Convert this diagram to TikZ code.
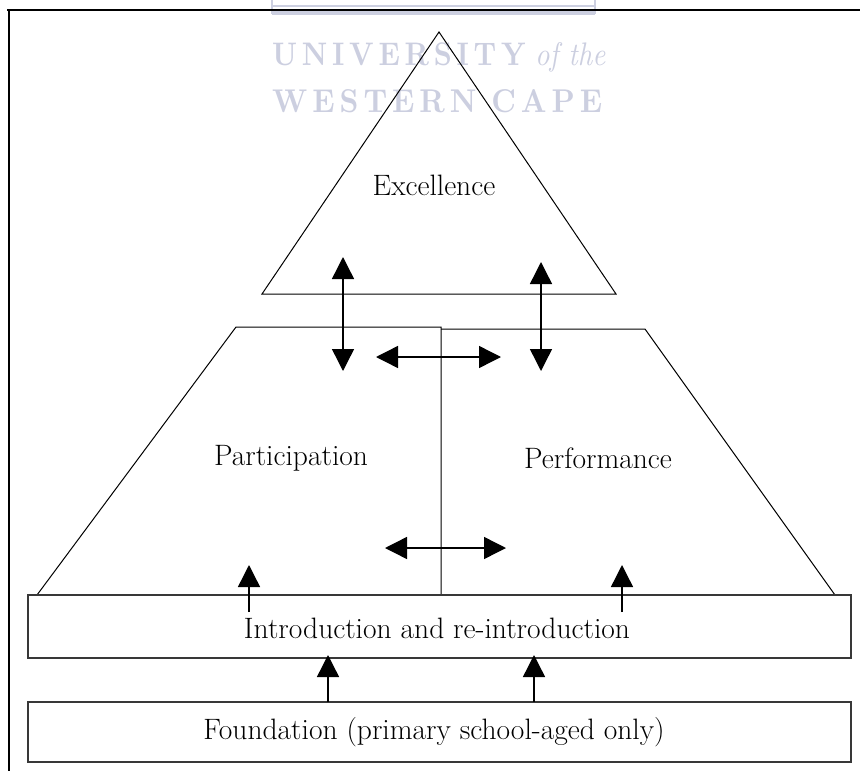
\documentclass[tikz,border=0pt]{standalone}
\usepackage{graphicx}
\usetikzlibrary{arrows.meta}
\definecolor{wm}{rgb}{0.80,0.81,0.88}
\definecolor{boxline}{rgb}{0.22,0.22,0.22}
\tikzset{
  shapeline/.style={draw=black,line width=1pt},
  boxshape/.style={draw=boxline,line width=1.6pt},
  arr/.style={line width=1.4pt,-{Triangle[width=22pt,length=22pt]}},
  darr/.style={line width=1.4pt,{Triangle[width=22pt,length=22pt]}-{Triangle[width=22pt,length=22pt]}},
  lbl/.style={font=\fontsize{29.5}{34}\selectfont,inner sep=0pt},
  wmtext/.style={text=wm,inner sep=0pt,anchor=west}
}
\begin{document}
\begin{tikzpicture}[x=1pt,y=-1pt]
\useasboundingbox (0,0) rectangle (860,771);
% watermark
\draw[wm,line width=1.2pt] (272,-4) rectangle (595,6);
\draw[wm,line width=5pt] (272,12) -- (595,12);
\draw[wm,line width=1.2pt] (272,-4) -- (272,14) (595,-4) -- (595,14);
\node[wmtext] (wm1) at (272,57) {\resizebox{333pt}{23pt}{\bfseries U\,N\,I\,V\,E\,R\,S\,I\,T\,Y\,\,\mdseries\itshape of the}};
\node[wmtext] (wm2) at (272,101) {\resizebox{330pt}{23pt}{\bfseries W\,E\,S\,T\,E\,R\,N\,\,\,C\,A\,P\,E}};
% frame
\draw[line width=2.8pt] (7,10) -- (860,10);
\draw[line width=2.8pt] (9,10) -- (9,771);
% triangle
\coordinate (tA) at (439,32);
\coordinate (tL) at (262,294);
\coordinate (tR) at (616,294);
\draw[shapeline] (tA) -- (tR) -- (tL) -- cycle;
% trapezoids
\coordinate (pTL) at (236,327);
\coordinate (pTR) at (441,327);
\coordinate (mB) at (441,595);
\coordinate (qTR) at (645,329);
\coordinate (pBL) at (37,595);
\coordinate (qBR) at (835,595);
\draw[shapeline] (pBL) -- (pTL) -- (pTR) -- (mB);
\draw[shapeline] (441,329) -- (qTR) -- (qBR);
% boxes
\node[boxshape,minimum width=823pt,minimum height=63pt,inner sep=0pt] (intro) at (439.5,626.5) {};
\node[boxshape,minimum width=823pt,minimum height=60pt,inner sep=0pt] (found) at (439.5,732) {};
% labels
\node[lbl] (exc) at (434,185) {Excellence};
\node[lbl] (part) at (291,458) {Participation};
\node[lbl] (perf) at (598,458) {Performance};
\node[lbl] (introl) at (437,628) {Introduction and re-introduction};
\node[lbl] (foundl) at (434,732) {Foundation (primary school-aged only)};
% arrows
\coordinate (v1t) at (343,257);
\coordinate (v1b) at (343,371);
\coordinate (v2t) at (541,262);
\coordinate (v2b) at (541,371);
\coordinate (h1l) at (376,357);
\coordinate (h1r) at (501,357);
\coordinate (h2l) at (385,548);
\coordinate (h2r) at (506,548);
\draw[darr] (v1t) -- (v1b);
\draw[darr] (v2t) -- (v2b);
\draw[darr] (h1l) -- (h1r);
\draw[darr] (h2l) -- (h2r);
\coordinate (u1) at (249,612);
\coordinate (u1t) at (249,565);
\coordinate (u2) at (622,612);
\coordinate (u2t) at (622,565);
\draw[arr] (u1) -- (u1t);
\draw[arr] (u2) -- (u2t);
\coordinate (f1) at (328,702);
\coordinate (f1t) at (328,655);
\coordinate (f2) at (534,702);
\coordinate (f2t) at (534,655);
\draw[arr] (f1) -- (f1t);
\draw[arr] (f2) -- (f2t);
\end{tikzpicture}
\end{document}
